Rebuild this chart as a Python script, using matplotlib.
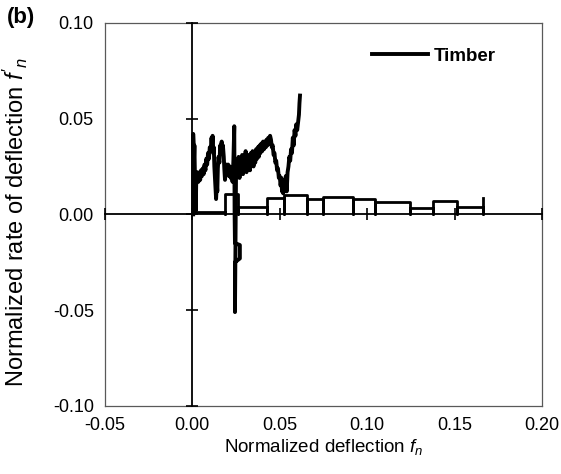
import matplotlib
matplotlib.use("Agg")
import matplotlib.pyplot as plt
import numpy as np

plt.rcParams['font.family'] = ['Liberation Sans', 'DejaVu Sans']
plt.rcParams['mathtext.fontset'] = 'custom'
plt.rcParams['mathtext.rm'] = 'Liberation Sans'
plt.rcParams['mathtext.it'] = 'Liberation Sans:italic'

# noisy rate curve
fn_noisy = [0.0005, 0.0005, 0.001, 0.0012, 0.0015, 0.002, 0.0022, 0.0025,
            0.003, 0.0035, 0.004, 0.0045, 0.005, 0.0055, 0.006, 0.0065, 0.007, 0.0075,
            0.008, 0.0085, 0.009, 0.0095, 0.010, 0.0105, 0.011, 0.0113, 0.0116,
            0.012, 0.0123, 0.0126, 0.013, 0.0133, 0.0136, 0.014, 0.0143, 0.0146,
            0.015, 0.0155, 0.016, 0.0163, 0.0168, 0.017, 0.0175, 0.018, 0.0183, 0.0187,
            0.019, 0.0195, 0.020, 0.0205, 0.021, 0.0215, 0.022, 0.0225, 0.023, 0.0235,
            0.024, 0.0242, 0.0244, 0.0272, 0.0272, 0.0244, 0.0244, 0.0248, 0.025, 0.0255, 0.026,
            0.0265, 0.027, 0.0275, 0.028, 0.0285, 0.029, 0.0295, 0.030, 0.0305, 0.031,
            0.0315, 0.032, 0.0325, 0.033, 0.0335, 0.034, 0.0345, 0.035, 0.0355, 0.036,
            0.0365, 0.037, 0.0375, 0.038, 0.0385, 0.039, 0.0395, 0.040, 0.0405, 0.041,
            0.0415, 0.042, 0.0425, 0.043, 0.0435, 0.044, 0.0445, 0.045,
            0.0455, 0.046, 0.0465, 0.047, 0.0475, 0.048, 0.0485, 0.049, 0.0495, 0.050,
            0.0505, 0.051, 0.0513, 0.0517, 0.052, 0.0525, 0.053, 0.0535, 0.054,
            0.0545, 0.055, 0.0555, 0.056, 0.0565, 0.057, 0.0575, 0.058, 0.0585, 0.059,
            0.0595, 0.060, 0.0605, 0.061, 0.0613, 0.0616]
dfn_noisy = [0.0, 0.042, 0.030, 0.036, 0.020, 0.002, 0.015, 0.020,
             0.022, 0.017, 0.021, 0.018, 0.023, 0.020, 0.024, 0.021, 0.026, 0.023,
             0.029, 0.026, 0.032, 0.029, 0.035, 0.033, 0.040, 0.036, 0.041,
             0.032, 0.035, 0.025, 0.018, 0.012, 0.008, 0.016, 0.012, 0.024,
             0.030, 0.027, 0.036, 0.032, 0.038, 0.033, 0.036, 0.030, 0.024, 0.018,
             0.022, 0.026, 0.021, 0.026, 0.020, 0.025, 0.019, 0.024, 0.017, 0.028,
             0.046, 0.0, -0.015, -0.016, -0.023, -0.025, -0.051, 0.0, 0.020, 0.027, 0.021,
             0.030, 0.019, 0.028, 0.022, 0.031, 0.021, 0.029, 0.024, 0.033, 0.022,
             0.030, 0.025, 0.031, 0.023, 0.032, 0.026, 0.033, 0.025, 0.031, 0.027,
             0.034, 0.029, 0.035, 0.030, 0.036, 0.032, 0.037, 0.033, 0.038, 0.034,
             0.038, 0.035, 0.039, 0.036, 0.040, 0.037, 0.041, 0.039,
             0.035, 0.036, 0.031, 0.032, 0.027, 0.028, 0.023, 0.024, 0.019, 0.020,
             0.015, 0.019, 0.012, 0.018, 0.011, 0.016, 0.013, 0.020, 0.012,
             0.022, 0.025, 0.030, 0.028, 0.034, 0.032, 0.040, 0.036, 0.044, 0.041,
             0.047, 0.044, 0.048, 0.052, 0.058, 0.062]

# stepped rate curve: step edges and heights
step_edges = [0.0005, 0.0187, 0.0263, 0.0425, 0.0525, 0.0654, 0.0749, 0.0920,
              0.1045, 0.1245, 0.1378, 0.1512, 0.1664]
step_heights = [0.0014, 0.0105, 0.0040, 0.0088, 0.0102, 0.0080, 0.0092, 0.0080,
                0.0066, 0.0031, 0.0071, 0.0037]
end_height = 0.0085

sx, sy = [], []
for i, h in enumerate(step_heights):
    x0, x1 = step_edges[i], step_edges[i + 1]
    sx += [x0, x0, x1, x1]
    sy += [0, h, h, 0]
sx += [step_edges[-1]]
sy += [end_height]

fig = plt.figure(figsize=(5.61, 4.74), dpi=100)
rect = [0.187, 0.1435, 0.779, 0.8085]
ax = fig.add_axes(rect)
ax.set_xlim(-0.05, 0.20)
ax.set_ylim(-0.10, 0.10)
ax.set_xticks(np.arange(-0.05, 0.201, 0.05))
ax.set_yticks(np.arange(-0.10, 0.101, 0.05))
ax.set_xticklabels(['-0.05', '0.00', '0.05', '0.10', '0.15', '0.20'])
ax.set_yticklabels(['-0.10', '-0.05', '0.00', '0.05', '0.10'])
ax.tick_params(length=0, labelsize=13, pad=8)
for s in ax.spines.values():
    s.set_color('0.35')
    s.set_linewidth(0.9)

ax.plot(fn_noisy, dfn_noisy, color='black', lw=2.8, label='Timber')
ax.plot(sx, sy, color='black', lw=2.0)

ax.set_xlabel(r"Normalized deflection $f_n$", fontsize=13.5)
ax.xaxis.set_label_coords(0.5, -0.08)
ax.set_ylabel(r"Normalized rate of deflection $f'_n$", fontsize=17)
ax.yaxis.set_label_coords(-0.172, 0.48)

ax.legend(loc='center right', bbox_to_anchor=(0.895, 0.912), frameon=False,
          handlelength=3.0, handletextpad=0.3, borderpad=0, borderaxespad=0,
          prop={'weight': 'bold', 'size': 13.5})

# axes through the origin with crossing ticks
ax2 = fig.add_axes(rect, sharex=ax, sharey=ax)
ax2.patch.set_visible(False)
ax2.spines['left'].set_position('zero')
ax2.spines['bottom'].set_position('zero')
ax2.spines['top'].set_visible(False)
ax2.spines['right'].set_visible(False)
for s in ['left', 'bottom']:
    ax2.spines[s].set_color('black')
    ax2.spines[s].set_linewidth(1.3)
ax2.tick_params(direction='inout', length=9, width=1.2, labelleft=False, labelbottom=False)

fig.text(0.012, 0.985, '(b)', fontsize=16, fontweight='bold', va='top')

fig.savefig('out.png', dpi=100)
